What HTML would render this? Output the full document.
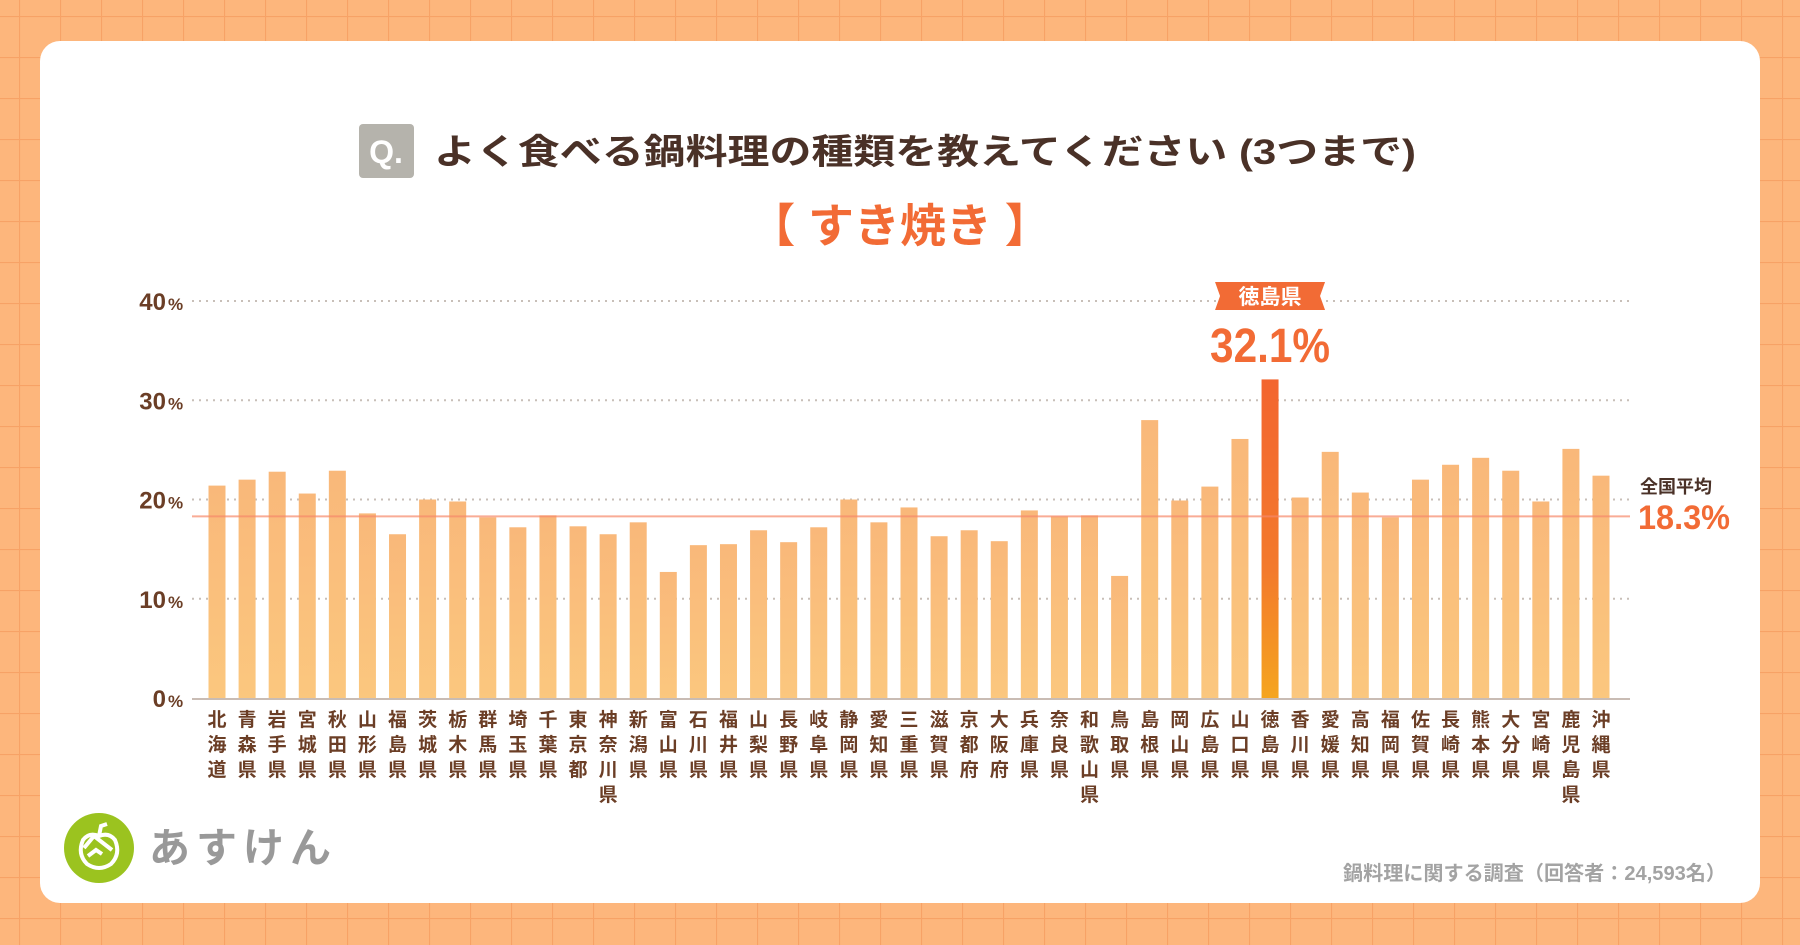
<!DOCTYPE html>
<html><head><meta charset="utf-8"><style>
html,body{margin:0;padding:0;width:1800px;height:945px;overflow:hidden;background:#fdb67c;}
svg{display:block;font-family:"Liberation Sans","Noto Sans CJK JP",sans-serif;}
</style></head><body>
<svg id="chart" width="1800" height="945" viewBox="0 0 1800 945" xmlns="http://www.w3.org/2000/svg">
<defs>
<pattern id="grid" width="41" height="41" patternUnits="userSpaceOnUse" x="19" y="16">
<rect width="41" height="41" fill="#fdb67c"/>
<path d="M0 0.5H41M0.5 0V41" stroke="#f7a266" stroke-width="1.2" fill="none"/>
</pattern>
<linearGradient id="barG" x1="0" y1="0" x2="0" y2="1"><stop offset="0" stop-color="#f9b87a"/><stop offset="1" stop-color="#fbc77e"/></linearGradient>
<linearGradient id="hiG" x1="0" y1="0" x2="0" y2="1"><stop offset="0" stop-color="#f3652f"/><stop offset="0.6" stop-color="#f37a2c"/><stop offset="1" stop-color="#f5a51f"/></linearGradient>
</defs>
<rect width="1800" height="945" fill="url(#grid)"/>
<rect x="40" y="41" width="1720" height="862" rx="20" fill="#ffffff"/>
<g>
<rect x="359" y="124" width="55" height="54" rx="4" fill="#b5b3ac"/>
<text x="386" y="163" text-anchor="middle" font-size="32" font-weight="bold" fill="#fff">Q.</text>
<text x="434" y="164" font-size="35" font-weight="bold" fill="#4a3127" textLength="982" lengthAdjust="spacingAndGlyphs">よく食べる鍋料理の種類を教えてください (3つまで)</text>
</g>
<text x="900" y="242" text-anchor="middle" font-size="46" font-weight="bold" fill="#f26b35">【 すき焼き 】</text>
<g id="axes"></g>
<g id="bars"></g>
<g id="xlabels"></g>
<g id="annot"></g>
<g>
<circle cx="99" cy="848" r="35" fill="#9bc31f"/>
<path d="M83 840 q-6 14 4 24 q12 8 24 0 q10 -10 4 -24 q-6 -8 -16 -4 q-10 -4 -16 4z" fill="none" stroke="#fff" stroke-width="4"/>
<path d="M84 848 l10 -12 l18 14 M88 856 l8 -6 l6 4" fill="none" stroke="#fff" stroke-width="4"/>
<path d="M99 836 l2 -10 l6 -2" fill="none" stroke="#fff" stroke-width="4"/>
<text x="149" y="862" font-size="41" font-weight="bold" fill="#999999" letter-spacing="6">あすけん</text>
</g>
<text x="1343" y="880" font-size="20" font-weight="bold" fill="#a3a3a3" textLength="383" lengthAdjust="spacingAndGlyphs">鍋料理に関する調査（回答者：24,593名）</text>
</svg>
<script>
const prefectures = ["北海道","青森県","岩手県","宮城県","秋田県","山形県","福島県","茨城県","栃木県","群馬県","埼玉県","千葉県","東京都","神奈川県","新潟県","富山県","石川県","福井県","山梨県","長野県","岐阜県","静岡県","愛知県","三重県","滋賀県","京都府","大阪府","兵庫県","奈良県","和歌山県","鳥取県","島根県","岡山県","広島県","山口県","徳島県","香川県","愛媛県","高知県","福岡県","佐賀県","長崎県","熊本県","大分県","宮崎県","鹿児島県","沖縄県"];
const values = [21.4,22.0,22.8,20.6,22.9,18.6,16.5,20.0,19.8,18.2,17.2,18.4,17.3,16.5,17.7,12.7,15.4,15.5,16.9,15.7,17.2,20.0,17.7,19.2,16.3,16.9,15.8,18.9,18.3,18.4,12.3,28.0,19.9,21.3,26.1,32.1,20.2,24.8,20.7,18.2,22.0,23.5,24.2,22.9,19.8,25.1,22.4];
const yTicks = [0,10,20,30,40];
const average = [18.3];
const highlightIndex = 35;

const NS="http://www.w3.org/2000/svg";
const plotL=192, plotR=1630, y0=698, yTop=301;
const yScale=v=>y0-(v/40)*(y0-yTop);
const firstX=217, step=(1601-217)/(prefectures.length-1);
const xScale=i=>firstX+i*step;
function mk(tag,attrs,parent,txt){const e=document.createElementNS(NS,tag);for(const k in attrs)e.setAttribute(k,attrs[k]);if(txt!==undefined)e.textContent=txt;parent.appendChild(e);return e;}
const axes=document.getElementById('axes');
yTicks.forEach(t=>{
  const y=yScale(t);
  if(t>0){const l=mk('line',{x1:plotL,x2:plotR,y1:y,y2:y,stroke:'#c8bfb8','stroke-width':2,'stroke-dasharray':'2 5'},axes);
  
  }
  const tx=mk('text',{x:166,y:y+9,'text-anchor':'end','font-size':24,'font-weight':'bold',fill:'#6b3e26'},axes,String(t));
  
  
  const p=mk('text',{x:168,y:y+9,'font-size':17,'font-weight':'bold',fill:'#6b3e26'},axes,'%');
  
  
});
const bars=document.getElementById('bars');
const xl=document.getElementById('xlabels');
prefectures.forEach((p,i)=>{
  const v=values[i], x=xScale(i), w=17;
  const r=mk('rect',{x:x-w/2,y:yScale(v),width:w,height:y0-yScale(v),fill:i===highlightIndex?'url(#hiG)':'url(#barG)'},bars);
  
  
  const g=mk('text',{x:x,'text-anchor':'middle','font-size':19,'font-weight':'bold',fill:'#6b3e26'},xl);
  
  
  [...p].forEach((c,j)=>mk('tspan',{x:x,y:726+j*25},g,c));
});
const base=mk('line',{x1:plotL,x2:plotR,y1:y0+1,y2:y0+1,stroke:'#c9bcb4','stroke-width':2},axes);


const an=document.getElementById('annot');
const ay=yScale(average[0]);
const al=mk('line',{x1:plotL,x2:plotR,y1:ay,y2:ay,stroke:'#f7896a','stroke-width':2,opacity:0.7},an);


const a1=mk('text',{x:1640,y:493,'font-size':18,'font-weight':'bold',fill:'#4a3127'},an,'全国平均');


const a2=mk('text',{x:1638,y:529,'font-size':34,'font-weight':'bold',fill:'#f26b35',textLength:92,lengthAdjust:'spacingAndGlyphs'},an,average[0].toFixed(1)+'%');


const hx=xScale(highlightIndex), hv=values[highlightIndex];
const tag=mk('path',{d:`M${hx-55} 282 H${hx+55} L${hx+50} 296 L${hx+55} 310 H${hx-55} L${hx-50} 296 Z`,fill:'#f26b35'},an);


const tt=mk('text',{x:hx,y:304,'text-anchor':'middle','font-size':21,'font-weight':'bold',fill:'#fff'},an,prefectures[highlightIndex]);


const hvT=mk('text',{x:hx,y:362,'text-anchor':'middle','font-size':48,'font-weight':'bold',fill:'#f26b35',textLength:120,lengthAdjust:'spacingAndGlyphs'},an,hv.toFixed(1)+'%');


</script>
</body></html>
